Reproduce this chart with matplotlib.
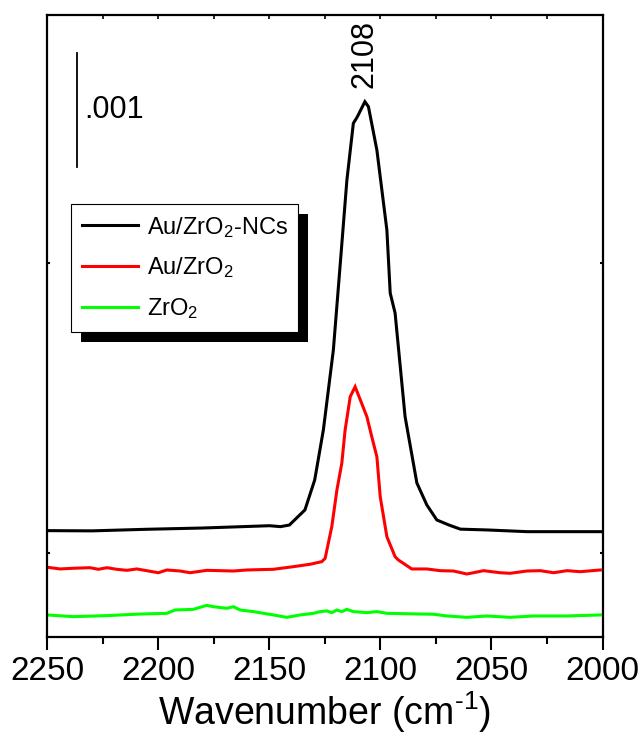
import matplotlib
matplotlib.use("Agg")
import matplotlib.pyplot as plt
from matplotlib.patches import Rectangle
from matplotlib.ticker import MultipleLocator, FixedLocator

plt.rcParams['font.family'] = ['Liberation Sans', 'DejaVu Sans']
plt.rcParams['mathtext.default'] = 'regular'

# Wavenumber (cm-1) and absorbance (units of 1e-3, offset traces)
wn_ncs = [2250, 2230, 2205, 2180, 2150, 2145, 2141, 2134, 2129.6, 2125.7, 2121.2, 2118.2,
          2115.1, 2112.2, 2110.4, 2107, 2105.4, 2101.6, 2097.1, 2095.6, 2093.4, 2088.9,
          2083.6, 2079.1, 2074.6, 2069, 2064, 2052, 2034, 2020, 2000]
ab_ncs = [0.927, 0.925, 0.939, 0.950, 0.970, 0.962, 0.976, 1.108, 1.370, 1.807, 2.506, 3.234,
          3.992, 4.488, 4.545, 4.677, 4.633, 4.254, 3.555, 3.004, 2.829, 1.923,
          1.344, 1.151, 1.020, 0.975, 0.940, 0.933, 0.918, 0.918, 0.918]

wn_au = [2250, 2244.3, 2238.3, 2230.8, 2227, 2223.2, 2218.7, 2214.2, 2209.7, 2200, 2196.2,
         2190.2, 2185.7, 2178.2, 2166.2, 2160.2, 2148.2, 2139.2, 2131.7, 2126.4, 2124.9,
         2121.9, 2119.6, 2117.4, 2115.9, 2113.6, 2111.4, 2109.1, 2106.1, 2103.9, 2101.6,
         2100.1, 2097.1, 2093.4, 2091.9, 2085.9, 2079.1, 2073.1, 2067.1, 2061.1, 2058.1,
         2053.6, 2046.1, 2041.6, 2034.1, 2028, 2022, 2016, 2010, 2001]
ab_au = [0.607, 0.592, 0.598, 0.603, 0.589, 0.603, 0.589, 0.580, 0.592, 0.559, 0.583,
         0.574, 0.559, 0.580, 0.574, 0.583, 0.589, 0.612, 0.633, 0.656, 0.685,
         0.962, 1.282, 1.516, 1.807, 2.098, 2.185, 2.072, 1.923, 1.748, 1.573,
         1.224, 0.874, 0.699, 0.670, 0.592, 0.592, 0.577, 0.574, 0.548, 0.559,
         0.577, 0.559, 0.554, 0.574, 0.577, 0.559, 0.577, 0.568, 0.583]

wn_zr = [2250, 2238.3, 2223.2, 2208.2, 2196.2, 2192.5, 2184.2, 2178.2, 2175.2, 2169.2,
         2166.2, 2163.2, 2157.2, 2148.2, 2142.2, 2136.2, 2130.2, 2127.2, 2124.2, 2121.9,
         2119.6, 2117.4, 2115.1, 2112.2, 2106.1, 2101.6, 2097.1, 2076.1, 2070.1, 2061.1,
         2052.1, 2041.6, 2031.1, 2016, 2001]
ab_zr = [0.190, 0.175, 0.184, 0.198, 0.204, 0.233, 0.239, 0.274, 0.262, 0.248,
         0.262, 0.233, 0.219, 0.190, 0.169, 0.190, 0.204, 0.219, 0.225, 0.210,
         0.233, 0.219, 0.239, 0.219, 0.210, 0.219, 0.204, 0.196, 0.181, 0.169,
         0.181, 0.169, 0.181, 0.181, 0.190]

labels = ['Au/ZrO$_2$-NCs', 'Au/ZrO$_2$', 'ZrO$_2$']
colors = ['black', '#ff0000', '#00ff00']
xticks = [2250, 2200, 2150, 2100, 2050, 2000]
yticks = [0.732, 3.267]
peak_label = '2108'
peak_pos = 2107
scale_text = '.001'
scale_bar = 1.0

fig = plt.figure(figsize=(6.42, 7.38), dpi=100)
ax = fig.add_axes([0.0737, 0.1373, 0.8648, 0.8424])

for wn, ab, lab, c in zip([wn_ncs, wn_au, wn_zr], [ab_ncs, ab_au, ab_zr], labels, colors):
    ax.plot(wn, ab, color=c, lw=2.2, label=lab, solid_joinstyle='miter')

ax.set_xlim(2250, 2000)
ax.set_ylim(0, 5.435)

for s in ax.spines.values():
    s.set_linewidth(1.6)

ax.xaxis.set_major_locator(FixedLocator(xticks))
ax.xaxis.set_minor_locator(MultipleLocator(25))
ax.yaxis.set_major_locator(FixedLocator(yticks))
ax.tick_params(axis='x', which='major', direction='out', length=9, width=1.5,
               labelsize=24, pad=5, top=False)
ax.tick_params(axis='x', which='minor', direction='out', length=5, width=1.5, top=False)
ax.tick_params(axis='y', which='major', direction='in', length=2, width=1.5,
               labelleft=False, right=True)
ax.set_xlabel('Wavenumber (cm$^{\u20101}$)', fontsize=27, labelpad=2)

# top minor ticks (inward)
axt = ax.secondary_xaxis('top')
axt.set_xticks([2225, 2200, 2175, 2150, 2125, 2100, 2075, 2050, 2025])
axt.tick_params(direction='in', length=3, width=1.2, labeltop=False)
axt.spines['top'].set_visible(False)

# scale bar
ax.plot([2236.6, 2236.6], [4.106, 4.106 + scale_bar], color='black', lw=1.3)
ax.text(2233.5, 4.106 + scale_bar / 2, scale_text, fontsize=22, va='center', ha='left')

# peak label
ax.text(peak_pos, 4.80, peak_label, rotation=90, fontsize=22, ha='center', va='bottom')

leg = ax.legend(loc='upper left', bbox_to_anchor=(0.0427, 0.696), borderaxespad=0,
                fontsize=17, frameon=True, fancybox=False, edgecolor='black',
                framealpha=1, handlelength=2.4, handletextpad=0.35, labelspacing=0.68,
                borderpad=0.45)
leg.get_frame().set_linewidth(0.8)
leg.set_zorder(5)

fig.canvas.draw()
bb = leg.get_window_extent().transformed(fig.transFigure.inverted())
dx, dy = 10 / 642, 10 / 738
ax.add_patch(Rectangle((bb.x0 + dx, bb.y0 - dy), bb.width, bb.height,
                       transform=fig.transFigure, facecolor='black',
                       edgecolor='none', zorder=4, clip_on=False))

fig.savefig('out.png', dpi=100)
